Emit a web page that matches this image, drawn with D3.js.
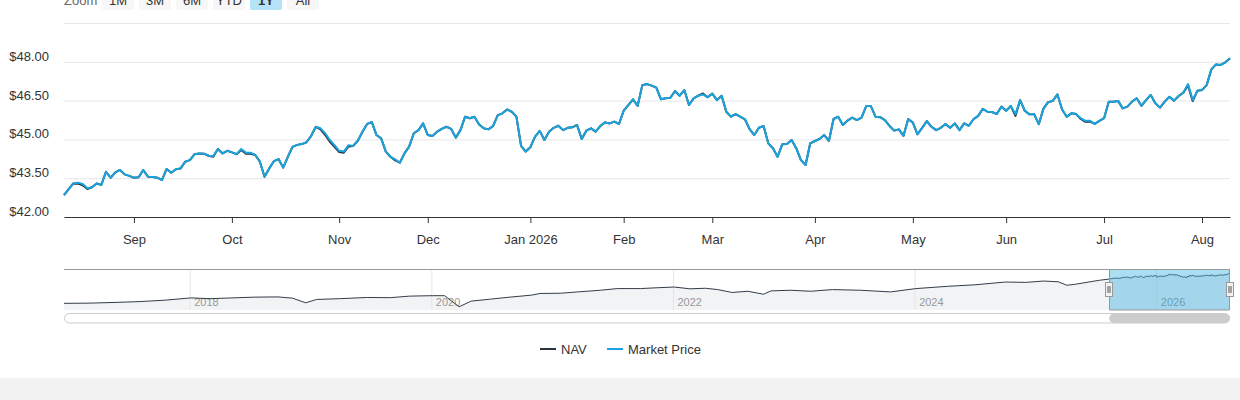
<!DOCTYPE html>
<html>
<head>
<meta charset="utf-8">
<script src="https://cdn.jsdelivr.net/npm/d3@7"></script>
<style>
  html, body { margin: 0; padding: 0; background: #fff; }
  svg { display: block; font-family: "Liberation Sans", Arial, Helvetica, sans-serif; }
</style>
</head>
<body>
<svg id="chart" width="1240" height="400"></svg>
<script>
// x axis: ordinal trading days, ticks on the first trading day of each month
const monthLabels = ["Sep", "Oct", "Nov", "Dec", "Jan 2026", "Feb", "Mar", "Apr", "May", "Jun", "Jul", "Aug"];
const monthIndex = [15, 36, 59, 78, 100, 120, 139, 161, 182, 202, 223, 244];

const yGrid = [42, 43.5, 45, 46.5, 48, 49.5];
const yLabelTicks = [42, 43.5, 45, 46.5, 48];

const zoomButtons = ["1M", "3M", "6M", "YTD", "1Y", "All"];
const activeZoom = "1Y";

const seriesNames = ["NAV", "Market Price"];

// daily closes, Aug 2025 - Aug 2026
const marketPrice = [
  42.86, 43.09, 43.31, 43.34, 43.29, 43.12, 43.16, 43.31, 43.25, 43.76,
  43.53, 43.74, 43.83, 43.66, 43.60, 43.53, 43.55, 43.83, 43.57, 43.56,
  43.53, 43.44, 43.87, 43.72, 43.86, 43.89, 44.15, 44.21, 44.44, 44.47,
  44.46, 44.38, 44.37, 44.64, 44.47, 44.57, 44.51, 44.44, 44.64, 44.50,
  44.50, 44.41, 44.15, 43.57, 43.89, 44.17, 44.25, 43.92, 44.34, 44.72,
  44.80, 44.83, 44.90, 45.15, 45.50, 45.44, 45.25, 44.99, 44.79, 44.57,
  44.54, 44.79, 44.76, 44.96, 45.31, 45.61, 45.68, 45.18, 45.05, 44.54,
  44.34, 44.24, 44.11, 44.47, 44.73, 45.25, 45.37, 45.63, 45.18, 45.14,
  45.31, 45.42, 45.50, 45.42, 45.08, 45.37, 45.89, 45.83, 45.89, 45.59,
  45.44, 45.40, 45.53, 45.95, 46.02, 46.17, 46.08, 45.89, 44.76, 44.54,
  44.71, 45.12, 45.34, 44.99, 45.31, 45.46, 45.54, 45.37, 45.46, 45.48,
  45.57, 45.03, 45.35, 45.44, 45.31, 45.53, 45.67, 45.63, 45.70, 45.61,
  46.12, 46.34, 46.56, 46.31, 47.11, 47.15, 47.09, 47.01, 46.56, 46.60,
  46.62, 46.88, 46.70, 46.92, 46.34, 46.60, 46.70, 46.75, 46.64, 46.78,
  46.53, 46.70, 46.08, 45.89, 45.99, 45.89, 45.79, 45.41, 45.18, 45.46,
  45.53, 44.86, 44.67, 44.34, 44.82, 44.83, 44.99, 44.67, 44.21, 44.02,
  44.86, 44.95, 45.03, 45.18, 44.95, 45.80, 45.89, 45.57, 45.74, 45.85,
  45.76, 45.85, 46.30, 46.30, 45.89, 45.87, 45.76, 45.53, 45.35, 45.40,
  45.15, 45.80, 45.66, 45.21, 45.46, 45.72, 45.50, 45.37, 45.46, 45.61,
  45.46, 45.63, 45.37, 45.63, 45.54, 45.79, 45.92, 46.19, 46.08, 46.07,
  45.99, 46.28, 46.12, 46.30, 45.99, 46.53, 46.12, 45.98, 45.99, 45.60,
  46.20, 46.45, 46.50, 46.75, 46.17, 45.89, 46.02, 45.99, 45.83, 45.73,
  45.73, 45.61, 45.73, 45.83, 46.47, 46.47, 46.50, 46.21, 46.28, 46.47,
  46.60, 46.31, 46.53, 46.73, 46.41, 46.24, 46.47, 46.66, 46.51, 46.69,
  46.82, 47.15, 46.53, 46.89, 46.92, 47.11, 47.72, 47.91, 47.89, 47.99,
  48.15
];

const nav = [
  42.86, 43.09, 43.31, 43.30, 43.24, 43.09, 43.16, 43.31, 43.25, 43.76,
  43.53, 43.74, 43.83, 43.66, 43.60, 43.53, 43.55, 43.83, 43.57, 43.56,
  43.53, 43.44, 43.87, 43.72, 43.86, 43.89, 44.15, 44.21, 44.44, 44.47,
  44.46, 44.38, 44.34, 44.64, 44.47, 44.57, 44.51, 44.44, 44.60, 44.46,
  44.46, 44.41, 44.15, 43.57, 43.89, 44.17, 44.25, 43.92, 44.34, 44.72,
  44.80, 44.83, 44.90, 45.15, 45.50, 45.40, 45.18, 44.92, 44.72, 44.52,
  44.50, 44.74, 44.76, 44.96, 45.31, 45.61, 45.68, 45.18, 45.05, 44.54,
  44.34, 44.20, 44.11, 44.47, 44.73, 45.25, 45.37, 45.63, 45.18, 45.14,
  45.31, 45.42, 45.50, 45.42, 45.08, 45.37, 45.89, 45.83, 45.89, 45.59,
  45.44, 45.40, 45.53, 45.95, 46.02, 46.17, 46.08, 45.89, 44.76, 44.54,
  44.71, 45.12, 45.34, 44.99, 45.31, 45.46, 45.54, 45.37, 45.46, 45.48,
  45.57, 45.03, 45.35, 45.44, 45.31, 45.53, 45.67, 45.63, 45.70, 45.61,
  46.12, 46.34, 46.56, 46.31, 47.11, 47.15, 47.09, 47.01, 46.56, 46.60,
  46.62, 46.88, 46.70, 46.92, 46.34, 46.60, 46.70, 46.79, 46.64, 46.78,
  46.53, 46.70, 46.08, 45.89, 45.99, 45.89, 45.79, 45.41, 45.18, 45.46,
  45.53, 44.86, 44.67, 44.34, 44.82, 44.83, 44.99, 44.67, 44.21, 44.02,
  44.86, 44.95, 45.03, 45.18, 44.95, 45.80, 45.89, 45.57, 45.74, 45.85,
  45.76, 45.85, 46.30, 46.30, 45.89, 45.87, 45.76, 45.53, 45.35, 45.40,
  45.15, 45.80, 45.66, 45.21, 45.46, 45.72, 45.50, 45.37, 45.46, 45.61,
  45.46, 45.63, 45.37, 45.63, 45.54, 45.79, 45.92, 46.19, 46.08, 46.07,
  45.99, 46.28, 46.12, 46.30, 45.92, 46.53, 46.12, 45.98, 45.99, 45.60,
  46.20, 46.45, 46.50, 46.75, 46.17, 45.89, 46.02, 45.99, 45.80, 45.69,
  45.70, 45.61, 45.73, 45.83, 46.47, 46.47, 46.50, 46.21, 46.28, 46.47,
  46.60, 46.31, 46.53, 46.73, 46.41, 46.24, 46.47, 46.66, 46.51, 46.69,
  46.82, 47.10, 46.49, 46.89, 46.92, 47.11, 47.72, 47.91, 47.89, 47.99,
  48.15
];

// navigator history before the selected year (decimal years)
const historyYears = [
  2016.96, 2017.18, 2017.40, 2017.59, 2017.80, 2018.01, 2018.17, 2018.35, 2018.54, 2018.73,
  2018.85, 2018.96, 2019.05, 2019.24, 2019.47, 2019.66, 2019.82, 2020.01, 2020.11, 2020.23,
  2020.33, 2020.49, 2020.65, 2020.83, 2020.90, 2021.07, 2021.21, 2021.40, 2021.54, 2021.73,
  2021.86, 2022.01, 2022.14, 2022.27, 2022.37, 2022.49, 2022.62, 2022.75, 2022.81, 2022.97,
  2023.14, 2023.32, 2023.55, 2023.80, 2024.01, 2024.28, 2024.50, 2024.75, 2024.92, 2025.07,
  2025.19, 2025.26, 2025.33, 2025.45, 2025.53
];
const historyValues = [
  21.0, 21.2, 21.9, 22.6, 23.9, 25.9, 25.2, 25.9, 26.6, 26.8,
  25.7, 21.5, 24.5, 25.2, 26.3, 26.1, 27.5, 27.9, 27.9, 17.9,
  23.0, 24.8, 26.6, 28.4, 29.9, 30.1, 31.3, 32.8, 34.3, 34.3,
  35.0, 35.7, 34.1, 34.6, 33.4, 30.8, 31.9, 29.2, 32.2, 32.8,
  31.9, 33.4, 32.8, 31.3, 34.3, 36.4, 37.7, 40.2, 39.9, 41.1,
  40.4, 37.3, 38.2, 40.4, 41.8
];
const yearTicks = [2018, 2020, 2022, 2024, 2026];
const navDomain = [2016.96, 2026.61];
const rangeStart = 2025.61;
const rangeEnd = 2026.61;

const COLORS = {
  nav: "#2b3541",
  price: "#1aa3dc",
  grid: "#e6e6e6",
  text: "#333333",
  navFill: "#f2f3f5",
  outline: "#999999",
};

const svg = d3.select("#chart");

// zoom buttons (top edge is cut off in the frame)
svg.append("text")
  .attr("x", 64)
  .attr("y", 4.5)
  .attr("font-size", 13)
  .attr("fill", "#666")
  .text("Zoom");

const btn = svg.selectAll("g.zoom-btn")
  .data(zoomButtons)
  .join("g")
  .attr("class", "zoom-btn")
  .attr("transform", (d, i) => `translate(${102 + i * 37},0)`);
btn.append("rect")
  .attr("y", -12)
  .attr("width", 32)
  .attr("height", 22)
  .attr("rx", 2)
  .attr("fill", (d) => (d === activeZoom ? "#b5e3f8" : "#f7f7f7"));
btn.append("text")
  .attr("x", 16)
  .attr("y", 4.5)
  .attr("text-anchor", "middle")
  .attr("font-size", 13)
  .attr("font-weight", (d) => (d === activeZoom ? "bold" : "normal"))
  .attr("fill", COLORS.text)
  .text((d) => d);

// main plot
const plot = { left: 64, right: 1230, top: 23.3, bottom: 217.3 };
const x = d3.scaleLinear().domain([0, marketPrice.length - 1]).range([plot.left, plot.right]);
const y = d3.scaleLinear().domain([42, 49.5]).range([plot.bottom, plot.top]);

svg.append("g")
  .attr("transform", `translate(${plot.left},0)`)
  .call(d3.axisLeft(y).tickValues(yGrid).tickSize(-(plot.right - plot.left)).tickFormat("").offset(0.2))
  .call((g) => g.select(".domain").remove())
  .call((g) => g.selectAll("line").attr("stroke", COLORS.grid));

svg.append("g")
  .attr("transform", `translate(${plot.left},0)`)
  .call(d3.axisLeft(y).tickValues(yLabelTicks).tickFormat(d3.format("$.2f")).tickSize(0).tickPadding(15))
  .call((g) => g.select(".domain").remove())
  .call((g) => g.selectAll("text")
    .attr("dy", -1.8)
    .attr("fill", COLORS.text)
    .attr("font-size", 13)
    .attr("font-family", "'Liberation Sans', Arial, sans-serif"));

svg.append("g")
  .attr("transform", `translate(0,217)`)
  .call(d3.axisBottom(x)
    .tickValues(monthIndex)
    .tickFormat((d, i) => monthLabels[i])
    .tickSizeInner(6)
    .tickSizeOuter(0)
    .tickPadding(12))
  .call((g) => g.select(".domain").attr("stroke", COLORS.text))
  .call((g) => g.selectAll(".tick line").attr("stroke", COLORS.text))
  .call((g) => g.selectAll("text")
    .attr("fill", COLORS.text)
    .attr("font-size", 13)
    .attr("font-family", "'Liberation Sans', Arial, sans-serif"));

const line = d3.line().x((d, i) => x(i)).y((d) => y(d));

svg.append("path")
  .datum(nav)
  .attr("d", line)
  .attr("fill", "none")
  .attr("stroke", COLORS.nav)
  .attr("stroke-width", 2)
  .attr("stroke-linejoin", "round");

svg.append("path")
  .datum(marketPrice)
  .attr("d", line)
  .attr("fill", "none")
  .attr("stroke", COLORS.price)
  .attr("stroke-width", 2)
  .attr("stroke-linejoin", "round");

// navigator
const navTop = 269.5;
const navBottom = 310;
const xn = d3.scaleLinear().domain(navDomain).range([plot.left, plot.right]);
const yn = d3.scaleLinear().domain([15, 51.5]).range([navBottom, navTop]);

const step = (rangeEnd - rangeStart) / (marketPrice.length - 1);
const navData = historyYears
  .map((t, i) => [t, historyValues[i]])
  .concat(marketPrice.map((v, i) => [rangeStart + i * step, v]));

svg.append("path")
  .datum(navData)
  .attr("d", d3.area().x((d) => xn(d[0])).y0(navBottom).y1((d) => yn(d[1])))
  .attr("fill", COLORS.navFill);

svg.append("g")
  .attr("transform", `translate(0,${navBottom})`)
  .call(d3.axisBottom(xn).tickValues(yearTicks).tickFormat(d3.format("d")).tickSize(-(navBottom - navTop)))
  .call((g) => g.select(".domain").remove())
  .call((g) => g.selectAll("line").attr("stroke", COLORS.grid))
  .call((g) => g.selectAll("text")
    .attr("x", 4)
    .attr("y", -4)
    .attr("dy", 0)
    .attr("text-anchor", "start")
    .attr("fill", "#999")
    .attr("font-size", 11)
    .attr("font-family", "'Liberation Sans', Arial, sans-serif"));

svg.append("path")
  .datum(navData)
  .attr("d", d3.line().x((d) => xn(d[0])).y((d) => yn(d[1])))
  .attr("fill", "none")
  .attr("stroke", "#333d47")
  .attr("stroke-width", 1);

const x0 = xn(rangeStart);
const x1 = xn(rangeEnd);

svg.append("rect")
  .attr("x", x0)
  .attr("y", navTop)
  .attr("width", x1 - x0)
  .attr("height", navBottom - navTop)
  .attr("fill", COLORS.price)
  .attr("fill-opacity", 0.36);

svg.append("path")
  .attr("d", `M${plot.left},${navTop}H${plot.right}M${Math.round(x0) + 0.5},${navTop}V${navBottom}H${Math.round(x1) - 0.5}V${navTop}`)
  .attr("fill", "none")
  .attr("stroke", COLORS.outline)
  .attr("stroke-width", 1);

[x0, x1].forEach((hx) => {
  const cx = Math.round(hx);
  svg.append("rect")
    .attr("x", cx - 3.5)
    .attr("y", 282.5)
    .attr("width", 7)
    .attr("height", 14)
    .attr("fill", "#f2f2f2")
    .attr("stroke", COLORS.outline);
  svg.append("path")
    .attr("d", `M${cx - 1},286V293M${cx + 1},286V293`)
    .attr("stroke", "#555")
    .attr("stroke-width", 1);
});

// scrollbar
svg.append("rect")
  .attr("x", plot.left + 0.5)
  .attr("y", 313.5)
  .attr("width", plot.right - plot.left - 1)
  .attr("height", 9.5)
  .attr("rx", 4.75)
  .attr("fill", "#fff")
  .attr("stroke", "#cccccc");
svg.append("rect")
  .attr("x", x0)
  .attr("y", 313.5)
  .attr("width", x1 - x0)
  .attr("height", 9.5)
  .attr("rx", 4.75)
  .attr("fill", "#cccccc");

// legend
const legendColors = [COLORS.nav, COLORS.price];
const legendX = [540, 607];
const item = svg.selectAll("g.legend-item")
  .data(seriesNames)
  .join("g")
  .attr("class", "legend-item")
  .attr("transform", (d, i) => `translate(${legendX[i]},349)`);
item.append("line")
  .attr("x1", 0)
  .attr("x2", 16)
  .attr("stroke", (d, i) => legendColors[i])
  .attr("stroke-width", 2);
item.append("text")
  .attr("x", 21)
  .attr("y", 4.5)
  .attr("font-size", 13)
  .attr("fill", COLORS.text)
  .text((d) => d);

// footer band
svg.append("rect")
  .attr("x", 0)
  .attr("y", 378)
  .attr("width", 1240)
  .attr("height", 22)
  .attr("fill", "#f2f2f2");
</script>
</body>
</html>
